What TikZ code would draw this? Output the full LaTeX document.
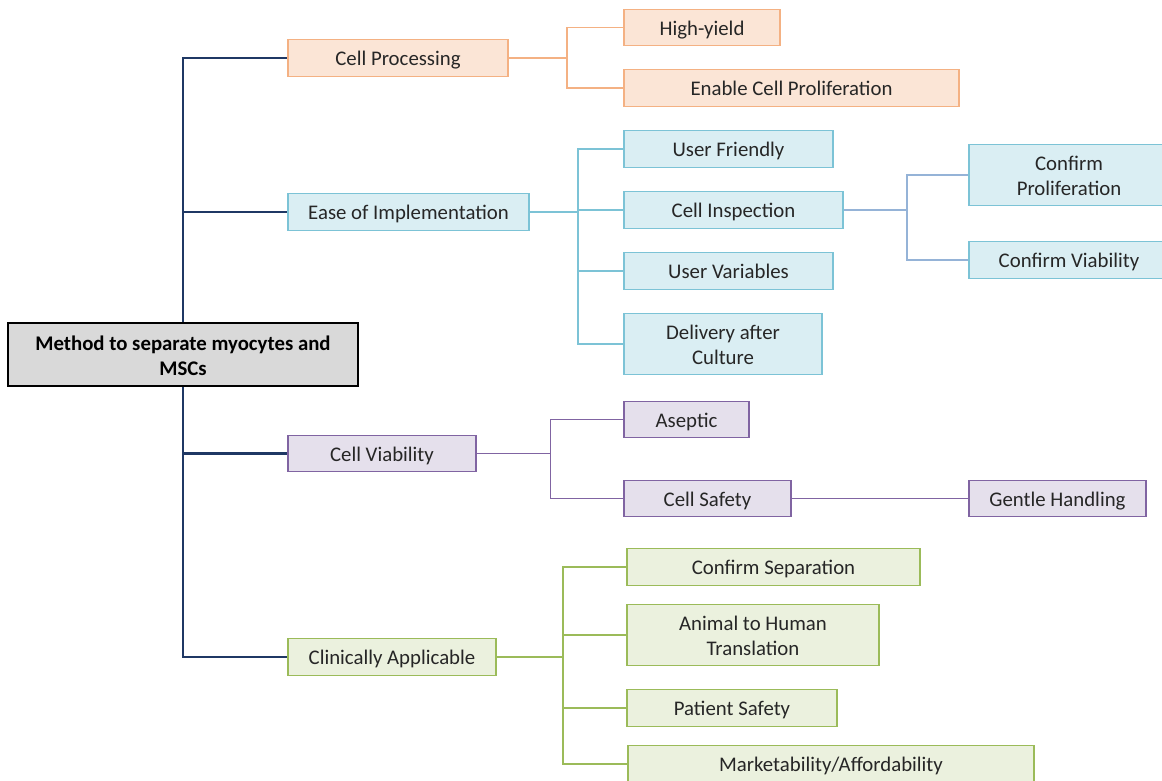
\documentclass[tikz,border=0pt]{standalone}
\usepackage{fontspec}
\setmainfont{Carlito}
\definecolor{orF}{HTML}{FBE5D6}
\definecolor{orD}{HTML}{F4B183}
\definecolor{blF}{HTML}{DAEEF3}
\definecolor{blD}{HTML}{7CC3D6}
\definecolor{blL}{HTML}{95B3D7}
\definecolor{puF}{HTML}{E5E0EC}
\definecolor{puD}{HTML}{8064A2}
\definecolor{grF}{HTML}{EBF1DE}
\definecolor{grD}{HTML}{9BBB59}
\definecolor{navy}{HTML}{1F3864}
\definecolor{txt}{HTML}{262626}
\begin{document}
\begin{tikzpicture}[x=1pt,y=-1pt,
  base/.style={draw, line width=1.6pt, inner sep=0pt, align=center, text=txt,
    font=\fontsize{20.8}{25}\selectfont, text height=15pt, text depth=0pt},
  twoline/.style={text height=40pt, text depth=0pt},
  orbox/.style={base, draw=orD, fill=orF},
  blbox/.style={base, draw=blD, fill=blF},
  pubox/.style={base, draw=puD, fill=puF},
  grbox/.style={base, draw=grD, fill=grF},
  rootbox/.style={base, draw=black, line width=2.2pt, fill=black!15, text=black,
    font=\fontsize{20.8}{25}\selectfont\bfseries, text height=41pt, text depth=0pt},
  spine/.style={draw=navy, line width=2.6pt},
  orl/.style={draw=orD, line width=1.6pt},
  bll/.style={draw=blD, line width=1.6pt},
  bll2/.style={draw=blL, line width=1.6pt},
  pul/.style={draw=puD, line width=1.3pt},
  grl/.style={draw=grD, line width=1.6pt}]
\useasboundingbox (0,0) rectangle (1162,780);
% boxes: center, width, height
\node[rootbox, minimum width=350pt, minimum height=63pt] (root) at (183,354.5) {Method to separate myocytes and\\MSCs};

\node[orbox, minimum width=220pt, minimum height=37pt] (cp) at (398,58) {Cell Processing};
\node[orbox, minimum width=156pt, minimum height=36pt] (hy) at (702,27.5) {High-yield};
\node[orbox, minimum width=335pt, minimum height=37pt] (ecp) at (791.5,88) {Enable Cell Proliferation};

\node[blbox, minimum width=241pt, minimum height=37pt] (ei) at (408.5,212) {Ease of Implementation};
\node[blbox, minimum width=209pt, minimum height=37pt] (uf) at (728.5,149) {User Friendly};
\node[blbox, minimum width=219pt, minimum height=37pt] (ci) at (733.5,210) {Cell Inspection};
\node[blbox, minimum width=209pt, minimum height=37pt] (uv) at (728.5,271) {User Variables};
\node[blbox, twoline, minimum width=198pt, minimum height=61pt] (dc) at (723,344) {Delivery after\\Culture};
\node[blbox, twoline, minimum width=200pt, minimum height=61pt] (cpr) at (1069,175) {Confirm\\Proliferation};
\node[blbox, minimum width=200pt, minimum height=37pt] (cvi) at (1069,260) {Confirm Viability};

\node[pubox, minimum width=188pt, minimum height=36pt] (cv) at (382,453.5) {Cell Viability};
\node[pubox, minimum width=125pt, minimum height=36pt] (as) at (686.5,419.5) {Aseptic};
\node[pubox, minimum width=167pt, minimum height=36pt] (cs) at (707.5,498.5) {Cell Safety};
\node[pubox, minimum width=177pt, minimum height=36pt] (gh) at (1057.5,498.5) {Gentle Handling};

\node[grbox, minimum width=208pt, minimum height=37pt] (ca) at (392,657) {Clinically Applicable};
\node[grbox, minimum width=293pt, minimum height=37pt] (csp) at (773.5,567) {Confirm Separation};
\node[grbox, twoline, minimum width=252pt, minimum height=61pt] (ah) at (753,635) {Animal to Human\\Translation};
\node[grbox, minimum width=210pt, minimum height=37pt] (ps) at (732,708) {Patient Safety};
\node[grbox, minimum width=406pt, minimum height=37pt] (ma) at (831,764) {Marketability/Affordability};

% spine
\draw[spine] (root.north) |- (cp.west);
\draw[spine] (root.north) |- (ei.west);
\draw[spine] (root.south) |- (cv.west);
\draw[spine] (root.south) |- (ca.west);

% cell processing
\draw[orl] (cp.east) -- ++(58,0) |- (hy.west);
\draw[orl] (cp.east) -- ++(58,0) |- (ecp.west);

% ease of implementation
\draw[bll] (ei.east) -- ++(48,0) |- (uf.west);
\draw[bll] (ei.east) -- ++(48,0) |- (ci.west);
\draw[bll] (ei.east) -- ++(48,0) |- (uv.west);
\draw[bll] (ei.east) -- ++(48,0) |- (dc.west);
\draw[bll2] (ci.east) -- ++(63,0) |- (cpr.west);
\draw[bll2] (ci.east) -- ++(63,0) |- (cvi.west);

% cell viability
\draw[pul] (cv.east) -- ++(74,0) |- (as.west);
\draw[pul] (cv.east) -- ++(74,0) |- (cs.west);
\draw[pul] (cs.east) -- (gh.west);

% clinically applicable
\draw[grl] (ca.east) -- ++(66,0) |- (csp.west);
\draw[grl] (ca.east) -- ++(66,0) |- (ah.west);
\draw[grl] (ca.east) -- ++(66,0) |- (ps.west);
\draw[grl] (ca.east) -- ++(66,0) |- (ma.west);
\end{tikzpicture}
\end{document}
